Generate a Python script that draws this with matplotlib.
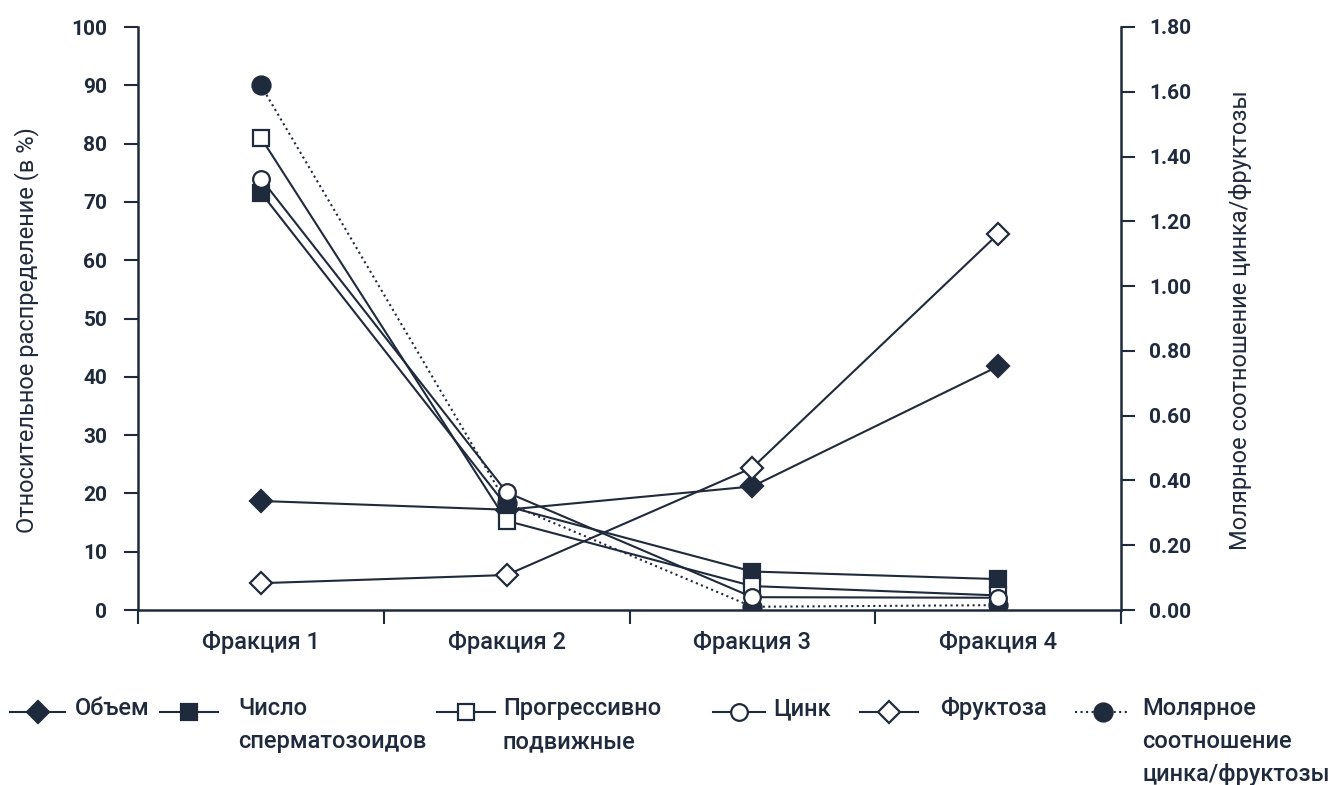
import matplotlib
matplotlib.use("Agg")
import matplotlib.pyplot as plt
from matplotlib.lines import Line2D
import numpy as np

plt.rcParams["font.family"] = ["Roboto", "DejaVu Sans"]

navy = "#1f2a3c"

fractions = ["Фракция 1", "Фракция 2", "Фракция 3", "Фракция 4"]

volume = [18.7, 17.2, 21.2, 41.8]
sperm_count = [71.6, 17.8, 6.6, 5.3]
progressive = [81.0, 15.3, 4.1, 2.5]
zinc = [74.0, 20.2, 2.2, 2.1]
fructose = [4.6, 6.0, 24.4, 64.5]
molar_ratio = [1.62, 0.33, 0.01, 0.015]

left_ticks = [0, 10, 20, 30, 40, 50, 60, 70, 80, 90, 100]
right_ticks = [0.0, 0.2, 0.4, 0.6, 0.8, 1.0, 1.2, 1.4, 1.6, 1.8]

labels = ["Объем", "Число\nсперматозоидов", "Прогрессивно\nподвижные",
          "Цинк", "Фруктоза", "Молярное\nсоотношение\nцинка/фруктозы"]

fig = plt.figure(figsize=(13.33, 7.85), dpi=100)
ax = fig.add_axes([138 / 1333, 1 - 610 / 785, (1121 - 138) / 1333, (610 - 27) / 785])
ax2 = ax.twinx()
# right axis goes behind so the open zinc markers sit on top of the ratio dots
ax2.set_zorder(ax.get_zorder() - 1)
ax.patch.set_visible(False)

x = np.arange(1, len(fractions) + 1)
lw = 1.5
ms = 12

styles = [
    dict(marker="D", mfc=navy, ms=ms - 1, ls="-"),
    dict(marker="s", mfc=navy, ms=ms, ls="-"),
    dict(marker="s", mfc="white", ms=ms, ls="-"),
    dict(marker="o", mfc="white", ms=ms, ls="-"),
    dict(marker="D", mfc="white", ms=ms - 1, ls="-"),
    dict(marker="o", mfc=navy, ms=ms + 1, ls=":"),
]

series = [volume, sperm_count, progressive, zinc, fructose]
for vals, st in zip(series, styles[:5]):
    ax.plot(x, vals, color=navy, lw=lw, mec=navy, mew=1.6, **st)
ax2.plot(x, molar_ratio, color=navy, lw=lw, mec=navy, mew=1.6, **styles[5])

ax.set_xlim(0.5, 4.5)
ax.set_ylim(0, 100)
ax2.set_ylim(0, 1.8)

ax.set_xticks(x)
ax.set_xticklabels(fractions, fontsize=17, fontweight="medium", color=navy)
ax.set_xticks(np.arange(0.5, 4.6, 1), minor=True)
ax.tick_params(axis="x", which="major", length=0, pad=15)
ax.tick_params(axis="x", which="minor", length=10, width=1.5, color=navy)

ax.set_yticks(left_ticks)
ax.set_yticklabels([str(t) for t in left_ticks], fontsize=15, fontweight="bold", color=navy)
ax.tick_params(axis="y", length=10, width=1.5, color=navy, pad=12)
ax2.set_yticks(right_ticks)
ax2.set_yticklabels([f"{t:.2f}" for t in right_ticks], fontsize=15, fontweight="bold", color=navy)
ax2.tick_params(axis="y", length=10, width=1.5, color=navy, pad=10)

for a in (ax, ax2):
    a.spines["top"].set_visible(False)
    for s in ("left", "right", "bottom"):
        a.spines[s].set_color(navy)
        a.spines[s].set_linewidth(1.8)
ax.spines["right"].set_visible(False)
ax2.spines["left"].set_visible(False)
ax2.spines["bottom"].set_visible(False)

ax.set_ylabel("Относительное распределение (в %)", fontsize=17, color=navy)
ax.yaxis.set_label_coords(-0.101, 0.48)
ax2.set_ylabel("Молярное соотношение цинка/фруктозы", fontsize=17, color=navy)
ax2.yaxis.set_label_coords(1.110, 0.497)

# hand-placed legend row, handles aligned with the first text line
W, H = 1333, 785
handle_x = [(10, 65), (160, 218), (437, 495), (713, 765), (860, 918), (1075, 1130)]
text_x = [75, 238, 503, 773, 940, 1142]
row_y = 712
for (h0, h1), tx, lab, st in zip(handle_x, text_x, labels, styles):
    yy = 1 - row_y / H
    fig.add_artist(Line2D([h0 / W, h1 / W], [yy, yy], transform=fig.transFigure,
                          color=navy, lw=lw, ls=st["ls"]))
    fig.add_artist(Line2D([(h0 + h1) / 2 / W], [yy], transform=fig.transFigure,
                          marker=st["marker"], mfc=st["mfc"], mec=navy, mew=1.6,
                          ms=st["ms"], ls="none"))
    fig.text(tx / W, 1 - (row_y - 15) / H, lab, fontsize=17, fontweight="medium",
             color=navy, va="top", ha="left", linespacing=1.55)

fig.savefig("out.png", dpi=100)
